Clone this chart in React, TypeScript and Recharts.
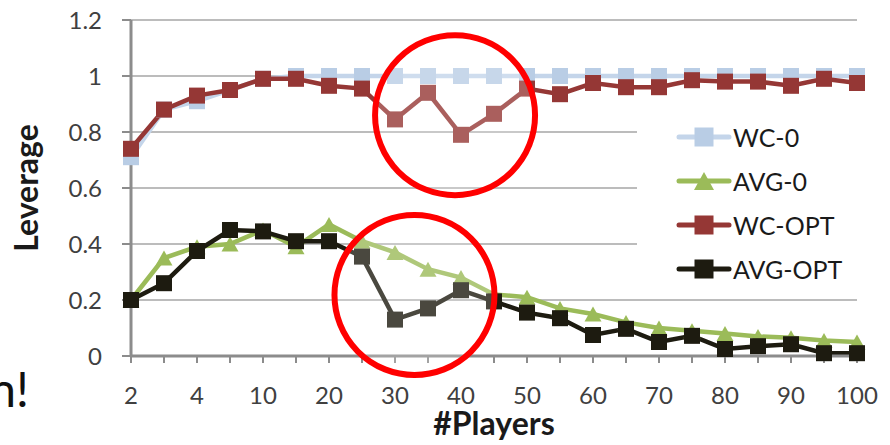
import React from 'react';
import { LineChart, Line, XAxis, YAxis, CartesianGrid, Legend, ReferenceDot } from 'recharts';

const players = [2, 3, 4, 6, 10, 15, 20, 25, 30, 35, 40, 45, 50, 55, 60, 65, 70, 75, 80, 85, 90, 95, 100];
const wc0 = [0.71, 0.88, 0.91, 0.95, 0.99, 1.0, 1.0, 1.0, 1.0, 1.0, 1.0, 1.0, 1.0, 1.0, 1.0, 1.0, 1.0, 1.0, 1.0, 1.0, 1.0, 1.0, 1.0];
const avg0 = [0.2, 0.35, 0.39, 0.4, 0.45, 0.39, 0.47, 0.41, 0.37, 0.31, 0.28, 0.22, 0.21, 0.17, 0.15, 0.12, 0.1, 0.09, 0.08, 0.07, 0.065, 0.055, 0.05];
const wcOpt = [0.74, 0.88, 0.93, 0.95, 0.99, 0.99, 0.965, 0.955, 0.845, 0.94, 0.79, 0.865, 0.955, 0.935, 0.975, 0.96, 0.96, 0.985, 0.98, 0.98, 0.965, 0.99, 0.975];
const avgOpt = [0.2, 0.26, 0.375, 0.45, 0.445, 0.41, 0.41, 0.355, 0.13, 0.17, 0.235, 0.195, 0.155, 0.135, 0.075, 0.097, 0.05, 0.072, 0.025, 0.035, 0.042, 0.01, 0.01];
const yTicks = [0, 0.2, 0.4, 0.6, 0.8, 1, 1.2];
// highlight circles (center in category-index / value units)
const highlights = [
  { x: 9.82, y: 0.86 },
  { x: 8.59, y: 0.218 },
];

const series = [
  { key: 'wc0', name: 'WC-0', color: '#b9cde5', lineColor: '#c4d5ea', shape: 'square' },
  { key: 'avg0', name: 'AVG-0', color: '#9bbb59', lineColor: '#9bbb59', shape: 'triangle' },
  { key: 'wcOpt', name: 'WC-OPT', color: '#953735', lineColor: '#953735', shape: 'square' },
  { key: 'avgOpt', name: 'AVG-OPT', color: '#1d1b10', lineColor: '#1d1b10', shape: 'square' },
];

const data = players.map((p, i) => ({
  i,
  players: p,
  wc0: wc0[i],
  avg0: avg0[i],
  wcOpt: wcOpt[i],
  avgOpt: avgOpt[i],
}));

const xTicks = players.map((_, i) => i);

function Marker({ shape, cx, cy, color, size }: any) {
  if (shape === 'triangle') {
    const w = size + 1;
    const h = size - 1;
    return (
      <polygon
        points={`${cx},${cy - h / 2} ${cx + w / 2},${cy + h / 2} ${cx - w / 2},${cy + h / 2}`}
        fill={color}
      />
    );
  }
  return <rect x={cx - size / 2} y={cy - size / 2} width={size} height={size} fill={color} />;
}

const makeDot = (shape: string, color: string) => (props: any) => {
  const { cx, cy, index } = props;
  if (cx == null || cy == null) return <g key={`d-${index}`} />;
  return (
    <g key={`d-${index}`}>
      <Marker shape={shape} cx={cx} cy={cy} color={color} size={16} />
    </g>
  );
};

const LegendContent = () => (
  <div style={{ width: '100%', height: '100%', background: '#fff' }}>
    {series.map((s) => (
      <div key={s.key} style={{ height: 44, display: 'flex', alignItems: 'center' }}>
        <svg width={56} height={24} style={{ marginLeft: 39, display: 'block' }}>
          <line x1={3} y1={12} x2={53} y2={12} stroke={s.lineColor} strokeWidth={5} strokeLinecap="round" />
          <Marker shape={s.shape} cx={28} cy={12} color={s.color} size={19} />
        </svg>
        <span style={{ fontSize: 25, color: '#1a1a1a', marginLeft: 1, lineHeight: '30px' }}>{s.name}</span>
      </div>
    ))}
  </div>
);

export default function App() {
  return (
    <div style={{ position: 'absolute', left: 0, top: 0, width: 890, height: 445, background: '#fff', fontFamily: 'Lato, "Open Sans", sans-serif' }}>
      <svg width={60} height={445} style={{ position: 'absolute', left: 0, top: 0 }}>
        <text x={29} y={407} textAnchor="end" fontSize={48} fill="#111" fontFamily="Lato">n!</text>
      </svg>
      <LineChart
        width={890}
        height={445}
        data={data}
        margin={{ top: 20, right: 33, bottom: 0, left: 0 }}
      >
        <CartesianGrid horizontal vertical={false} stroke="#a6a6a6" strokeWidth={1.5} />
        <XAxis
          dataKey="i"
          type="number"
          domain={[0, 22]}
          ticks={xTicks}
          interval={0}
          height={89}
          tickFormatter={(v: number) => (v % 2 === 0 ? String(players[v]) : '')}
          tick={{ fontSize: 24, fill: '#404040' }}
          tickSize={7}
          tickMargin={24}
          tickLine={{ stroke: '#8c8c8c', strokeWidth: 2 }}
          axisLine={{ stroke: '#8c8c8c', strokeWidth: 3 }}
          label={{ value: '#Players', position: 'insideBottom', offset: 10, style: { fontSize: 32, fontWeight: 700, fill: '#1a1a1a' } }}
        />
        <YAxis
          width={131}
          domain={[0, 1.2]}
          ticks={yTicks}
          interval={0}
          tick={{ fontSize: 24, fill: '#404040' }}
          tickSize={9}
          tickMargin={20}
          tickLine={{ stroke: '#8c8c8c', strokeWidth: 2 }}
          axisLine={{ stroke: '#8c8c8c', strokeWidth: 3 }}
          label={{ value: 'Leverage', angle: -90, position: 'insideLeft', offset: 27, style: { fontSize: 32, fontWeight: 700, fill: '#1a1a1a', textAnchor: 'middle' } }}
        />
        <Legend
          layout="vertical"
          align="center"
          verticalAlign="middle"
          content={<LegendContent />}
          wrapperStyle={{ position: 'absolute', left: 637, top: 115, width: 225, height: 176, background: '#fff' }}
        />
        {series.map((s) => (
          <Line
            key={s.key}
            dataKey={s.key}
            name={s.name}
            stroke={s.lineColor}
            strokeWidth={4.5}
            dot={makeDot(s.shape, s.color)}
            activeDot={false}
            isAnimationActive={false}
          />
        ))}
        {highlights.map((h, k) => (
          <ReferenceDot
            key={k}
            x={h.x}
            y={h.y}
            r={80}
            fill="#ffffff"
            fillOpacity={0.2}
            stroke="#ff0000"
            strokeWidth={6}
            zIndex={1500}
          />
        ))}
      </LineChart>
    </div>
  );
}
